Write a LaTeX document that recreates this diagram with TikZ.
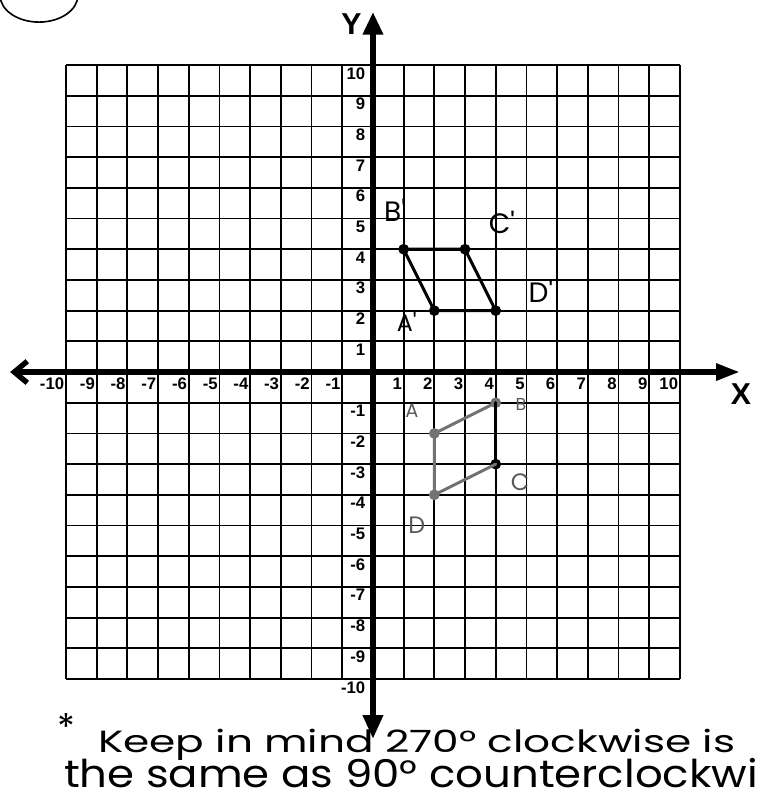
\documentclass[tikz,border=0pt]{standalone}
\usepackage{fontspec}
\setmainfont{Liberation Sans}
\newfontfamily\handfont{Poppins}
\usepackage{graphicx}
\usetikzlibrary{positioning,arrows.meta}

\tikzset{
    gridline/.style={black, line width=1.7pt},
    axisline/.style={black, line width=5pt},
    ticklbl/.style={font=\fontsize{15.5}{15.5}\selectfont\bfseries, inner sep=0pt},
    axisname/.style={font=\fontsize{28}{28}\selectfont\bfseries, inner sep=0pt},
    handlbl/.style={font=\handfont\fontsize{#1}{#1}\selectfont, inner sep=0pt},
    handlbl/.default=24,
    vertex/.style={circle, fill=#1, inner sep=0pt, minimum size=10pt},
    vertex/.default=black,
    shapeline/.style={line width=2.8pt, line cap=round, line join=round},
}

\begin{document}
\begin{tikzpicture}
        % Define grid parameters
        \def\gmax{10}

        \useasboundingbox (-12.15,-14.04) rectangle (12.83,12.12);

        % Draw the grid
        \foreach \i in {-10,...,10} {
            \draw[gridline] (\i,-\gmax) -- (\i,\gmax);
            \draw[gridline] (-\gmax,\i) -- (\gmax,\i);
        }

        % Draw the axes
        \coordinate (xleft) at (-11.82,0);
        \coordinate (xright) at (11.95,0);
        \coordinate (ytop) at (0,11.73);
        \coordinate (ybottom) at (0,-11.95);
        \draw[axisline, {Triangle[length=22pt,width=18pt]}-{Triangle[length=21pt,width=18pt]}] (ybottom) -- (ytop);
        \draw[axisline, {Straight Barb[length=12pt,width=20pt]}-{Triangle[length=22pt,width=15pt]}] (xleft) -- (xright);

        % Add the tick labels
        \foreach \i in {-10,...,10} {
            \ifnum\i=0\else
                \node[ticklbl, anchor=north east, xshift=-1.5pt, yshift=-5.5pt] (xtick\i) at (\i,0) {\i};
                \node[ticklbl, anchor=north east, xshift=-7pt, yshift=-2pt] (ytick\i) at (0,\i) {\i};
            \fi
        }

        % Add the axis names
        \node[axisname] (ylabel) at (-0.7,11.34) {Y};
        \node[axisname] (xlabel) at (11.99,-0.72) {X};

        % Rotated figure A'B'C'D'
        \node[vertex] (Ap) at (2,2) {};
        \node[vertex] (Bp) at (1,4) {};
        \node[vertex] (Cp) at (3,4) {};
        \node[vertex] (Dp) at (4,2) {};
        \draw[shapeline] (Bp.center) -- (Cp.center) -- (Dp.center) -- (Ap.center) -- cycle;

        \node[handlbl=26] (lblBp) at (0.72,5.28) {B'};
        \node[handlbl=26] (lblCp) at (4.2,4.89) {C'};
        \node[handlbl=26] (lblDp) at (5.47,2.64) {D'};
        \node[handlbl=22] (lblAp) at (1.1,1.63) {A'};

        % Original figure ABCD
        \node[vertex=black!55] (A) at (2,-2) {};
        \node[vertex=black!55] (B) at (4,-1) {};
        \node[vertex] (C) at (4,-3) {};
        \node[vertex=black!55] (D) at (2,-4) {};
        \draw[shapeline, black!55] (A.center) -- (B.center);
        \draw[shapeline] (B.center) -- (C.center);
        \draw[shapeline, black!55] (C.center) -- (D.center) -- (A.center);

        \node[handlbl=18, black!65] (lblA) at (1.27,-1.27) {A};
        \node[handlbl=16, black!65] (lblB) at (4.82,-1.07) {B};
        \node[handlbl=22, black!65] (lblC) at (4.79,-3.58) {C};
        \node[handlbl=22, black!65] (lblD) at (1.43,-4.98) {D};

        % Circled problem number, cut off at the top
        \draw[line width=1.5pt] (-9.61,12.28) arc[start angle=0, end angle=-180, x radius=1.27, y radius=0.88];

        % Add the note below the grid
        \node[handlbl=34] (star) at (-9.97,-11.55) {*};
        \node[anchor=base west, inner sep=0pt, font=\handfont] (note1) at (-8.96,-12.38) {\resizebox{20.75cm}{0.76cm}{Keep in mind 270° clockwise is}};
        \node[anchor=base west, inner sep=0pt, font=\handfont] (note2) at (-10.07,-13.52) {\resizebox{22.6cm}{0.95cm}{the same as 90° counterclockwi}};

    \end{tikzpicture}
\end{document}
